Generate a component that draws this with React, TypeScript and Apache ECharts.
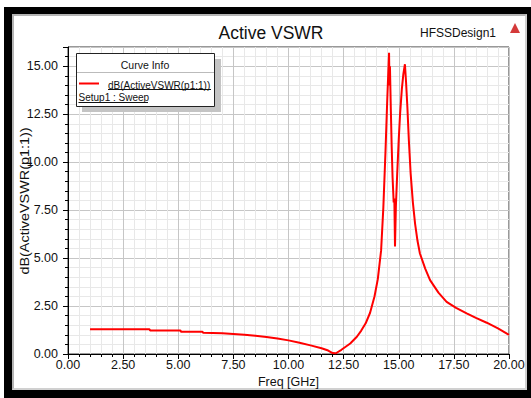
import React, { useEffect, useRef } from 'react';
import * as echarts from 'echarts';

const freqGHz = [
  1.0, 2.0, 3.0, 3.7, 3.72, 5.1, 5.12, 6.1, 6.12, 7.0, 7.5, 8.0, 8.5, 9.0, 9.5, 10.0,
  10.5, 11.0, 11.5, 11.8, 12.0, 12.15, 12.4, 12.8, 13.1, 13.3, 13.5, 13.7, 13.9, 14.05,
  14.2, 14.3, 14.4, 14.48, 14.56, 14.58, 14.6, 14.64, 14.68, 14.72, 14.77, 14.8, 14.83,
  14.87, 14.93, 15.0, 15.06, 15.14, 15.21, 15.28, 15.33, 15.39, 15.46, 15.54, 15.64,
  15.74, 15.85, 15.96, 16.2, 16.42, 16.8, 17.17, 17.6, 18.08, 18.5, 18.99, 19.5, 20.0,
];
const activeVswrDb = [
  1.29, 1.29, 1.29, 1.29, 1.23, 1.23, 1.16, 1.16, 1.11, 1.08, 1.04, 1.0, 0.95, 0.89, 0.81, 0.71,
  0.59, 0.45, 0.3, 0.18, 0.05, 0.04, 0.22, 0.55, 0.9, 1.22, 1.6, 2.15, 3.0, 3.9,
  5.4, 7.6, 10.6, 13.3, 15.7, 14.0, 15.0, 12.8, 10.8, 9.2, 7.9, 8.1, 5.6,
  7.7, 9.4, 11.2, 12.5, 13.8, 14.6, 15.1, 14.2, 12.9, 11.1, 9.4, 7.9,
  6.8, 5.9, 5.24, 4.45, 3.85, 3.2, 2.72, 2.4, 2.12, 1.88, 1.63, 1.33, 1.0,
];

const titleText = 'Active VSWR';
const designText = 'HFSSDesign1';
const xAxisName = 'Freq [GHz]';
const yAxisName = 'dB(ActiveVSWR(p1:1))';
const legendHeader = 'Curve Info';
const legendCurve = 'dB(ActiveVSWR(p1:1))';
const legendSetup = 'Setup1 : Sweep';

const NARROW = '"Liberation Sans Narrow", "Arial Narrow", "Liberation Sans", Arial, sans-serif';
const SANS = '"Liberation Sans", Arial, sans-serif';

const fmt = (v: number) =>
  Math.abs(v / 2.5 - Math.round(v / 2.5)) < 1e-6 ? v.toFixed(2) : '';

export default function App() {
  const ref = useRef<HTMLDivElement>(null);
  useEffect(() => {
    const chart = echarts.init(ref.current!, null, { renderer: 'svg' });
    const axisCommon = {
      type: 'value' as const,
      min: 0,
      interval: 2.5,
      axisLine: { show: true, lineStyle: { color: '#000', width: 1 } },
      axisTick: { show: true, inside: false, length: 5, lineStyle: { color: '#000' } },
      minorTick: { show: true, splitNumber: 5, length: 3, lineStyle: { color: '#000' } },
      splitLine: { show: true, lineStyle: { color: '#c6c6c6', width: 1 } },
      minorSplitLine: { show: true, lineStyle: { color: '#e8e8e8', width: 1 } },
    };
    chart.setOption({
      animation: false,
      backgroundColor: 'transparent',
      grid: {
        left: 68, right: 22, top: 47, bottom: 44,
        show: true, borderColor: '#333', borderWidth: 1, backgroundColor: 'transparent',
      },
      xAxis: {
        ...axisCommon,
        max: 20,
        name: xAxisName,
        nameLocation: 'middle',
        nameGap: 18,
        nameTextStyle: { fontFamily: NARROW, fontSize: 12.5, color: '#111' },
        axisLabel: { fontFamily: NARROW, fontSize: 12.5, color: '#111', margin: 4, formatter: fmt },
      },
      yAxis: {
        ...axisCommon,
        max: 16,
        axisLabel: { fontFamily: NARROW, fontSize: 12.5, color: '#111', margin: 10, formatter: fmt },
      },
      series: [
        {
          type: 'line',
          data: freqGHz.map((f, i) => [f, activeVswrDb[i]]),
          showSymbol: false,
          symbol: 'none',
          lineStyle: { color: '#ff0000', width: 2 },
          z: 5,
        },
      ],
      graphic: [
        {
          type: 'text', x: 271, y: 32.5, z: 100,
          style: { text: titleText, fontFamily: SANS, fontSize: 17.5, fill: '#111', align: 'center', verticalAlign: 'middle' },
        },
        {
          type: 'text', x: 420, y: 33, z: 100,
          style: { text: designText, fontFamily: SANS, fontSize: 12, fill: '#111', align: 'left', verticalAlign: 'middle' },
        },
        {
          type: 'polygon', z: 100,
          shape: { points: [[515, 23], [520, 33], [510, 33]] },
          style: { fill: '#d43a3a' },
        },
        {
          type: 'text', x: 25, y: 201, z: 100, rotation: Math.PI / 2, scaleY: 0.83,
          style: { text: yAxisName, fontFamily: SANS, fontSize: 14.4, fill: '#111', align: 'center', verticalAlign: 'middle' },
        },
        {
          type: 'rect', z: 100,
          shape: { x: 82, y: 59, width: 139, height: 53 },
          style: { fill: '#c4c4c4' },
        },
        {
          type: 'rect', z: 101,
          shape: { x: 76.5, y: 53.5, width: 138, height: 53 },
          style: { fill: '#fff', stroke: '#222', lineWidth: 1 },
        },
        {
          type: 'line', z: 102,
          shape: { x1: 77, y1: 72.5, x2: 214, y2: 72.5 },
          style: { stroke: '#bbb', lineWidth: 1 },
        },
        {
          type: 'text', x: 145, y: 64.5, z: 102,
          style: { text: legendHeader, fontFamily: SANS, fontSize: 10.5, fill: '#111', align: 'center', verticalAlign: 'middle' },
        },
        {
          type: 'line', z: 102,
          shape: { x1: 79, y1: 83.5, x2: 99, y2: 83.5 },
          style: { stroke: '#ff0000', lineWidth: 2 },
        },
        {
          type: 'text', x: 108, y: 85, z: 102,
          style: { text: legendCurve, fontFamily: SANS, fontSize: 10, fill: '#111', align: 'left', verticalAlign: 'middle' },
        },
        {
          type: 'line', z: 102,
          shape: { x1: 108, y1: 89.5, x2: 211, y2: 89.5 },
          style: { stroke: '#111', lineWidth: 1 },
        },
        {
          type: 'text', x: 78.5, y: 97.5, z: 102,
          style: { text: legendSetup, fontFamily: SANS, fontSize: 10, fill: '#111', align: 'left', verticalAlign: 'middle' },
        },
        {
          type: 'line', z: 102,
          shape: { x1: 78.5, y1: 102.5, x2: 148, y2: 102.5 },
          style: { stroke: '#111', lineWidth: 1 },
        },
      ],
    });
    return () => chart.dispose();
  }, []);
  return (
    <div style={{ position: 'fixed', left: 0, top: 0, width: 531, height: 398, background: '#fff', overflow: 'hidden' }}>
      <div style={{ position: 'absolute', left: 4, top: 7, width: 527, height: 391, background: '#000' }} />
      <div
        style={{
          position: 'absolute', left: 12, top: 14, width: 515, height: 376, background: '#fff',
          boxSizing: 'border-box', borderLeft: '2px solid #b4b4b4', borderTop: '2px solid #b4b4b4',
          borderRight: '2px solid #d0d0d0', borderBottom: '2px solid #d0d0d0',
        }}
      />
      <div ref={ref} style={{ position: 'absolute', left: 0, top: 0, width: 531, height: 398 }} />
    </div>
  );
}
